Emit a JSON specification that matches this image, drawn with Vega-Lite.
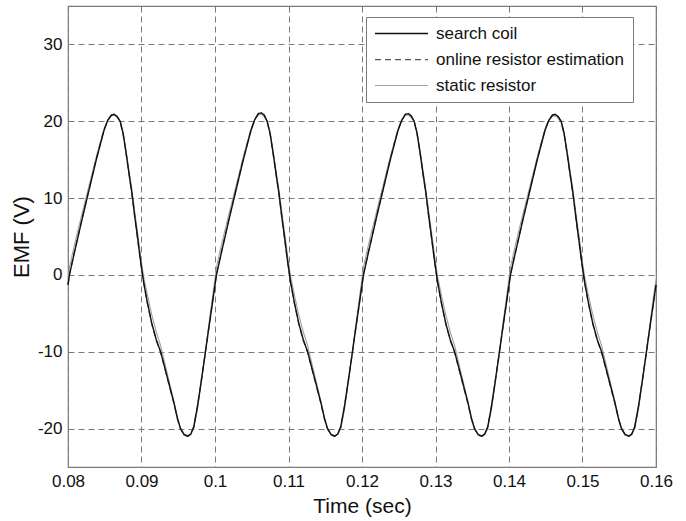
{
"$schema": "https://vega.github.io/schema/vega-lite/v6.json",
"width": 588, "height": 461,
"autosize": {"type": "none"},
"padding": {"left": 68, "top": 6, "right": 30, "bottom": 54},
"background": "white",
"config": {
  "font": "Liberation Sans",
  "view": {"stroke": "#7a7a7a", "strokeWidth": 1.2},
  "axis": {"labelFontSize": 17, "labelColor": "#111", "titleFontSize": 21, "titleFontWeight": "normal", "titleColor": "#111", "grid": true, "gridDash": [6, 4], "gridColor": "#7a7a7a", "gridWidth": 1, "domain": false, "ticks": false, "labelPadding": 6}
},
"data": {"values": [
{"t":0.0800,"c":-1.3,"o":-1.3,"s":-0.6},
{"t":0.0802,"c":0,"o":0.1,"s":1.0},
{"t":0.0808,"c":2.6,"o":2.7,"s":3.6},
{"t":0.0814,"c":5.1,"o":5.2,"s":6.0},
{"t":0.0820,"c":7.6,"o":7.7,"s":8.3},
{"t":0.0826,"c":10.0,"o":10.1,"s":10.6},
{"t":0.0832,"c":12.4,"o":12.5,"s":12.9},
{"t":0.0838,"c":14.8,"o":14.9,"s":15.2},
{"t":0.0844,"c":17.0,"o":17.1,"s":17.3},
{"t":0.0849,"c":18.8,"o":18.9,"s":19.0},
{"t":0.0854,"c":20.1,"o":20.1,"s":20.2},
{"t":0.0859,"c":20.8,"o":20.8,"s":20.7},
{"t":0.0863,"c":20.9,"o":20.9,"s":20.8},
{"t":0.0867,"c":20.6,"o":20.6,"s":20.5},
{"t":0.0871,"c":20.0,"o":19.9,"s":19.9},
{"t":0.0875,"c":18.4,"o":18.3,"s":18.5},
{"t":0.0879,"c":15.9,"o":15.8,"s":16.2},
{"t":0.0883,"c":13.2,"o":13.1,"s":13.6},
{"t":0.0887,"c":10.6,"o":10.5,"s":11.1},
{"t":0.0891,"c":7.5,"o":7.4,"s":8.1},
{"t":0.0895,"c":4.6,"o":4.5,"s":5.3},
{"t":0.0899,"c":1.6,"o":1.5,"s":2.3},
{"t":0.0903,"c":-1.0,"o":-1.1,"s":-0.3},
{"t":0.0908,"c":-3.6,"o":-3.7,"s":-2.6},
{"t":0.0914,"c":-6.3,"o":-6.4,"s":-5.2},
{"t":0.0920,"c":-8.4,"o":-8.5,"s":-7.4},
{"t":0.0926,"c":-10.0,"o":-10.1,"s":-9.2},
{"t":0.0932,"c":-12.2,"o":-12.3,"s":-11.6},
{"t":0.0938,"c":-14.4,"o":-14.5,"s":-14.0},
{"t":0.0944,"c":-16.6,"o":-16.7,"s":-16.4},
{"t":0.0949,"c":-18.7,"o":-18.8,"s":-18.6},
{"t":0.0953,"c":-20.0,"o":-20.0,"s":-19.9},
{"t":0.0958,"c":-20.8,"o":-20.8,"s":-20.7},
{"t":0.0963,"c":-21.0,"o":-21.0,"s":-20.9},
{"t":0.0967,"c":-20.7,"o":-20.7,"s":-20.8},
{"t":0.0971,"c":-19.8,"o":-19.8,"s":-20.0},
{"t":0.0976,"c":-17.2,"o":-17.2,"s":-17.6},
{"t":0.0981,"c":-14.0,"o":-14.0,"s":-14.3},
{"t":0.0986,"c":-10.7,"o":-10.7,"s":-10.6},
{"t":0.0991,"c":-7.3,"o":-7.3,"s":-6.9},
{"t":0.0996,"c":-4.0,"o":-4.0,"s":-3.3},
{"t":0.1002,"c":0,"o":0.1,"s":1.0},
{"t":0.1008,"c":2.6,"o":2.7,"s":3.6},
{"t":0.1014,"c":5.1,"o":5.2,"s":6.0},
{"t":0.1020,"c":7.6,"o":7.7,"s":8.3},
{"t":0.1026,"c":10.0,"o":10.1,"s":10.6},
{"t":0.1032,"c":12.4,"o":12.5,"s":12.9},
{"t":0.1038,"c":14.8,"o":14.9,"s":15.2},
{"t":0.1044,"c":17.0,"o":17.1,"s":17.3},
{"t":0.1049,"c":18.8,"o":18.9,"s":19.0},
{"t":0.1054,"c":20.2,"o":20.2,"s":20.2},
{"t":0.1059,"c":21.0,"o":21.0,"s":20.8},
{"t":0.1063,"c":21.1,"o":21.1,"s":20.9},
{"t":0.1067,"c":20.8,"o":20.8,"s":20.6},
{"t":0.1071,"c":20.0,"o":19.9,"s":19.9},
{"t":0.1075,"c":18.4,"o":18.3,"s":18.5},
{"t":0.1079,"c":15.9,"o":15.8,"s":16.2},
{"t":0.1083,"c":13.2,"o":13.1,"s":13.6},
{"t":0.1087,"c":10.6,"o":10.5,"s":11.1},
{"t":0.1091,"c":7.5,"o":7.4,"s":8.1},
{"t":0.1095,"c":4.6,"o":4.5,"s":5.3},
{"t":0.1099,"c":1.6,"o":1.5,"s":2.3},
{"t":0.1103,"c":-1.0,"o":-1.1,"s":-0.3},
{"t":0.1108,"c":-3.6,"o":-3.7,"s":-2.6},
{"t":0.1114,"c":-6.3,"o":-6.4,"s":-5.2},
{"t":0.1120,"c":-8.4,"o":-8.5,"s":-7.4},
{"t":0.1126,"c":-10.0,"o":-10.1,"s":-9.2},
{"t":0.1132,"c":-12.2,"o":-12.3,"s":-11.6},
{"t":0.1138,"c":-14.4,"o":-14.5,"s":-14.0},
{"t":0.1144,"c":-16.6,"o":-16.7,"s":-16.4},
{"t":0.1149,"c":-18.7,"o":-18.8,"s":-18.6},
{"t":0.1153,"c":-20.0,"o":-20.0,"s":-19.9},
{"t":0.1158,"c":-20.8,"o":-20.8,"s":-20.7},
{"t":0.1163,"c":-21.0,"o":-21.0,"s":-20.9},
{"t":0.1167,"c":-20.7,"o":-20.7,"s":-20.8},
{"t":0.1171,"c":-19.8,"o":-19.8,"s":-20.0},
{"t":0.1176,"c":-17.2,"o":-17.2,"s":-17.6},
{"t":0.1181,"c":-14.0,"o":-14.0,"s":-14.3},
{"t":0.1186,"c":-10.7,"o":-10.7,"s":-10.6},
{"t":0.1191,"c":-7.3,"o":-7.3,"s":-6.9},
{"t":0.1196,"c":-4.0,"o":-4.0,"s":-3.3},
{"t":0.1202,"c":0,"o":0.1,"s":1.0},
{"t":0.1208,"c":2.6,"o":2.7,"s":3.6},
{"t":0.1214,"c":5.1,"o":5.2,"s":6.0},
{"t":0.1220,"c":7.6,"o":7.7,"s":8.3},
{"t":0.1226,"c":10.0,"o":10.1,"s":10.6},
{"t":0.1232,"c":12.4,"o":12.5,"s":12.9},
{"t":0.1238,"c":14.8,"o":14.9,"s":15.2},
{"t":0.1244,"c":17.0,"o":17.1,"s":17.3},
{"t":0.1249,"c":18.8,"o":18.9,"s":19.0},
{"t":0.1254,"c":20.1,"o":20.1,"s":20.2},
{"t":0.1259,"c":20.9,"o":20.9,"s":20.8},
{"t":0.1263,"c":21.0,"o":21.0,"s":20.8},
{"t":0.1267,"c":20.7,"o":20.7,"s":20.5},
{"t":0.1271,"c":20.0,"o":19.9,"s":19.9},
{"t":0.1275,"c":18.4,"o":18.3,"s":18.5},
{"t":0.1279,"c":15.9,"o":15.8,"s":16.2},
{"t":0.1283,"c":13.2,"o":13.1,"s":13.6},
{"t":0.1287,"c":10.6,"o":10.5,"s":11.1},
{"t":0.1291,"c":7.5,"o":7.4,"s":8.1},
{"t":0.1295,"c":4.6,"o":4.5,"s":5.3},
{"t":0.1299,"c":1.6,"o":1.5,"s":2.3},
{"t":0.1303,"c":-1.0,"o":-1.1,"s":-0.3},
{"t":0.1308,"c":-3.6,"o":-3.7,"s":-2.6},
{"t":0.1314,"c":-6.3,"o":-6.4,"s":-5.2},
{"t":0.1320,"c":-8.4,"o":-8.5,"s":-7.4},
{"t":0.1326,"c":-10.0,"o":-10.1,"s":-9.2},
{"t":0.1332,"c":-12.2,"o":-12.3,"s":-11.6},
{"t":0.1338,"c":-14.4,"o":-14.5,"s":-14.0},
{"t":0.1344,"c":-16.6,"o":-16.7,"s":-16.4},
{"t":0.1349,"c":-18.7,"o":-18.8,"s":-18.6},
{"t":0.1353,"c":-20.0,"o":-20.0,"s":-19.9},
{"t":0.1358,"c":-20.8,"o":-20.8,"s":-20.7},
{"t":0.1363,"c":-21.0,"o":-21.0,"s":-20.9},
{"t":0.1367,"c":-20.7,"o":-20.7,"s":-20.8},
{"t":0.1371,"c":-19.8,"o":-19.8,"s":-20.0},
{"t":0.1376,"c":-17.2,"o":-17.2,"s":-17.6},
{"t":0.1381,"c":-14.0,"o":-14.0,"s":-14.3},
{"t":0.1386,"c":-10.7,"o":-10.7,"s":-10.6},
{"t":0.1391,"c":-7.3,"o":-7.3,"s":-6.9},
{"t":0.1396,"c":-4.0,"o":-4.0,"s":-3.3},
{"t":0.1402,"c":0,"o":0.1,"s":1.0},
{"t":0.1408,"c":2.6,"o":2.7,"s":3.6},
{"t":0.1414,"c":5.1,"o":5.2,"s":6.0},
{"t":0.1420,"c":7.6,"o":7.7,"s":8.3},
{"t":0.1426,"c":10.0,"o":10.1,"s":10.6},
{"t":0.1432,"c":12.4,"o":12.5,"s":12.9},
{"t":0.1438,"c":14.8,"o":14.9,"s":15.2},
{"t":0.1444,"c":17.0,"o":17.1,"s":17.3},
{"t":0.1449,"c":18.8,"o":18.9,"s":19.0},
{"t":0.1454,"c":20.1,"o":20.1,"s":20.1},
{"t":0.1459,"c":20.8,"o":20.8,"s":20.6},
{"t":0.1463,"c":20.9,"o":20.9,"s":20.7},
{"t":0.1467,"c":20.6,"o":20.6,"s":20.4},
{"t":0.1471,"c":20.0,"o":19.9,"s":19.9},
{"t":0.1475,"c":18.4,"o":18.3,"s":18.5},
{"t":0.1479,"c":15.9,"o":15.8,"s":16.2},
{"t":0.1483,"c":13.2,"o":13.1,"s":13.6},
{"t":0.1487,"c":10.6,"o":10.5,"s":11.1},
{"t":0.1491,"c":7.5,"o":7.4,"s":8.1},
{"t":0.1495,"c":4.6,"o":4.5,"s":5.3},
{"t":0.1499,"c":1.6,"o":1.5,"s":2.3},
{"t":0.1503,"c":-1.0,"o":-1.1,"s":-0.3},
{"t":0.1508,"c":-3.6,"o":-3.7,"s":-2.6},
{"t":0.1514,"c":-6.3,"o":-6.4,"s":-5.2},
{"t":0.1520,"c":-8.4,"o":-8.5,"s":-7.4},
{"t":0.1526,"c":-10.0,"o":-10.1,"s":-9.2},
{"t":0.1532,"c":-12.2,"o":-12.3,"s":-11.6},
{"t":0.1538,"c":-14.4,"o":-14.5,"s":-14.0},
{"t":0.1544,"c":-16.6,"o":-16.7,"s":-16.4},
{"t":0.1549,"c":-18.7,"o":-18.8,"s":-18.6},
{"t":0.1553,"c":-20.0,"o":-20.0,"s":-19.9},
{"t":0.1558,"c":-20.8,"o":-20.8,"s":-20.7},
{"t":0.1563,"c":-21.0,"o":-21.0,"s":-20.9},
{"t":0.1567,"c":-20.7,"o":-20.7,"s":-20.8},
{"t":0.1571,"c":-19.8,"o":-19.8,"s":-20.0},
{"t":0.1576,"c":-17.2,"o":-17.2,"s":-17.6},
{"t":0.1581,"c":-14.0,"o":-14.0,"s":-14.3},
{"t":0.1586,"c":-10.7,"o":-10.7,"s":-10.6},
{"t":0.1591,"c":-7.3,"o":-7.3,"s":-6.9},
{"t":0.1596,"c":-4.0,"o":-4.0,"s":-3.3},
{"t":0.1600,"c":-1.3,"o":-1.3,"s":-0.6}
]},
"transform": [{"fold": ["s", "o", "c"], "as": ["series", "emf"]}],
"mark": {"type": "line", "interpolate": "linear"},
"encoding": {
  "x": {"field": "t", "type": "quantitative", "scale": {"domain": [0.08, 0.16], "nice": false, "zero": false},
        "axis": {"title": "Time (sec)", "values": [0.08, 0.09, 0.1, 0.11, 0.12, 0.13, 0.14, 0.15, 0.16], "format": "~g", "labelFlush": false, "titlePadding": 6}},
  "y": {"field": "emf", "type": "quantitative", "scale": {"domain": [-25, 35], "nice": false, "zero": false},
        "axis": {"title": "EMF (V)", "titleFontSize": 22, "values": [-20, -10, 0, 10, 20, 30], "labelExpr": "datum.value + ''", "labelFlush": false, "titlePadding": 4}},
  "color": {"field": "series", "type": "nominal", "title": null,
    "scale": {"domain": ["c", "o", "s"], "range": ["#111111", "#555555", "#a0a0a0"]},
    "legend": {"orient": "none", "legendX": 298, "legendY": 11, "direction": "vertical",
      "labelExpr": "datum.value == 'c' ? 'search coil' : datum.value == 'o' ? 'online resistor estimation' : 'static resistor'",
      "symbolType": "stroke", "symbolSize": 2809, "clipHeight": 17, "labelFontSize": 17, "labelColor": "#111", "labelOffset": 7,
      "rowPadding": 8, "padding": 8, "strokeColor": "#7a7a7a", "fillColor": "white", "labelLimit": 400}},
  "strokeDash": {"field": "series", "type": "nominal", "title": null,
    "scale": {"domain": ["c", "o", "s"], "range": [[1, 0], [6, 4], [1, 0]]}, "legend": null},
  "strokeWidth": {"field": "series", "type": "nominal", "title": null,
    "scale": {"domain": ["c", "o", "s"], "range": [1.4, 1.1, 0.9]}, "legend": null}
}
}
